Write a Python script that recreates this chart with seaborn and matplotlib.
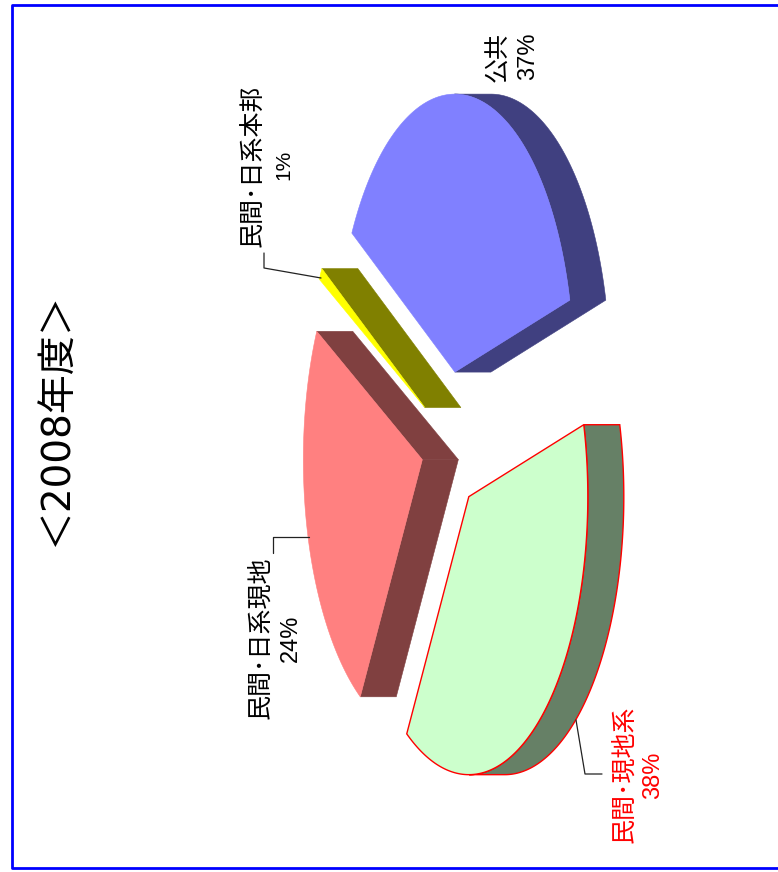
import numpy as np
import matplotlib
matplotlib.use("Agg")
import matplotlib.pyplot as plt
from matplotlib import font_manager as fm
from matplotlib.patches import Polygon
import seaborn as sns

# --- data -------------------------------------------------------------
title = "＜2008年度＞"
categories = ["公共", "民間･現地系", "民間･日系現地", "民間･日系本邦"]
shares = [37.5, 37.9, 23.9, 0.7]
share_labels = ["37%", "38%", "24%", "1%"]
top_colors = ["#8080FF", "#CCFFCC", "#FF8080", "#FFFF00"]
side_colors = ["#404080", "#668066", "#804040", "#808000"]
edge_colors = [None, "#FF0000", None, None]
text_colors = ["black", "#FF0000", "black", "black"]

# --- layout (pixel coordinates of the reference) ----------------------
W, H = 778, 872
CENTER = (451.0, 441.0)
RX, RY = 119.0, 278.0      # ellipse semi-axes on screen
EXPLODE = 0.25
DEPTH = 36.0
START = 30.0
label_pos = [(499, 57), (624, 774), (260, 638), (254, 166)]
share_pos = [(528, 56), (653, 775), (291, 638), (284, 165)]
leaders = [None,
           [(576, 720), (585, 774), (602, 774)],
           [(273, 553), (273, 537), (309, 537)],
           [(264, 253), (264, 268), (321, 278)]]

sns.set_theme(style="white")
avail = {f.name for f in fm.fontManager.ttflist}
narrow = "Liberation Sans Narrow" if "Liberation Sans Narrow" in avail else "Liberation Sans"
plt.rcParams["font.family"] = ["Noto Sans CJK JP", "DejaVu Sans"]

fig = plt.figure(figsize=(W / 100, H / 100), dpi=100)
ax = fig.add_axes([0, 0, 1, 1])
ax.set_xlim(0, W)
ax.set_ylim(H, 0)
ax.axis("off")


def screen(theta, r=1.0, cx=CENTER[0], cy=CENTER[1]):
    t = np.radians(theta)
    return cx - RX * r * np.cos(t), cy - RY * r * np.sin(t)


edges = START + 360 * np.concatenate([[0], np.cumsum(shares)]) / sum(shares)
for i, share in enumerate(shares):
    a0, a1 = edges[i], edges[i + 1]
    apex = screen((a0 + a1) / 2, EXPLODE)
    th = np.linspace(a0, a1, max(4, int((a1 - a0) * 1.5)))
    arc = [screen(t, 1.0, apex[0], apex[1]) for t in th]
    pts = np.array([apex] + arc + [apex])
    x, y = pts[:, 0], pts[:, 1]
    sign = np.sign(np.sum(x[:-1] * y[1:] - x[1:] * y[:-1]))
    facing = (y[1:] - y[:-1]) * sign > 1e-9

    edge = edge_colors[i]
    j = 0
    while j < len(facing):
        if not facing[j]:
            j += 1
            continue
        k = j
        while k + 1 < len(facing) and facing[k + 1]:
            k += 1
        strip = pts[j:k + 2]
        poly = np.vstack([strip, (strip + [DEPTH, 0])[::-1]])
        ax.add_patch(Polygon(poly, closed=True, facecolor=side_colors[i],
                             edgecolor=edge or side_colors[i],
                             lw=1.0 if edge else 0.4, zorder=2))
        j = k + 1
    ax.add_patch(Polygon(pts[:-1], closed=True, facecolor=top_colors[i],
                         edgecolor=edge or top_colors[i],
                         lw=1.0 if edge else 0.4, zorder=3))

    if leaders[i]:
        lx, ly = zip(*leaders[i])
        sns.lineplot(x=list(lx), y=list(ly), ax=ax, sort=False, color="#222222",
                     lw=0.9, estimator=None, zorder=4, legend=False)
    ax.text(*label_pos[i], categories[i], rotation=90, ha="center", va="center",
            fontsize=18, color=text_colors[i], zorder=5)
    ax.text(*share_pos[i], share_labels[i], rotation=90, ha="center", va="center",
            fontsize=17 if i < 3 else 15, color=text_colors[i],
            family=[narrow, "DejaVu Sans"], zorder=5)

ax.text(57, 419, title, rotation=90, ha="center", va="center", fontsize=28,
        family=["DejaVu Sans", "Noto Sans CJK JP"], color="black", zorder=5)

# frame open on the right, as in the reference
sns.lineplot(x=[W, 12, 12, W], y=[5, 5, 868, 868], ax=ax, sort=False, estimator=None,
             color="#0000FF", lw=2, zorder=6, legend=False)
ax.set_xlim(0, W)
ax.set_ylim(H, 0)
ax.set_xlabel("")
ax.set_ylabel("")
fig.savefig("out.png", dpi=100, facecolor="white")
